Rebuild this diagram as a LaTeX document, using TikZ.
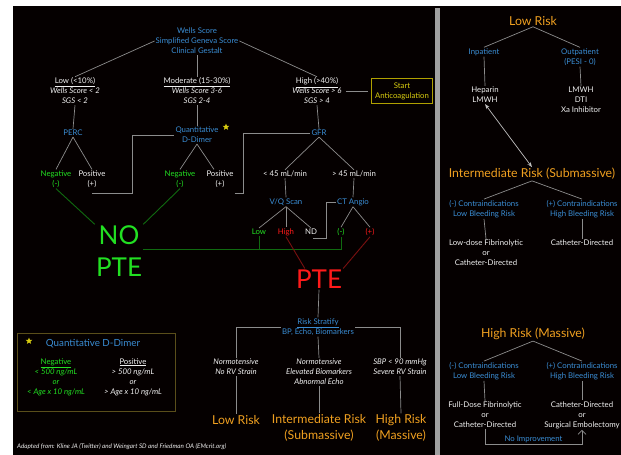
\documentclass[tikz,border=0pt]{standalone}
\usepackage{fontspec}
\setmainfont{Lato}
\usetikzlibrary{shapes.geometric,arrows.meta}
\definecolor{bgblack}{HTML}{050000}
\definecolor{txtwhite}{HTML}{F0F0F0}
\definecolor{txtblue}{HTML}{3A8DD4}
\definecolor{txtgreen}{HTML}{22E022}
\definecolor{bigred}{HTML}{FF1A1A}
\definecolor{txtorange}{HTML}{F0A020}
\definecolor{txtyellow}{HTML}{D8CC10}
\definecolor{boxyellow}{HTML}{B0A000}
\definecolor{boxolive}{HTML}{5A4E1A}
\definecolor{linegray}{HTML}{8C8C8C}
\definecolor{linegreen}{HTML}{106A10}
\definecolor{linered}{HTML}{7A1010}
\definecolor{bargray}{HTML}{A0A0A0}

\begin{document}
\begin{tikzpicture}[x=1pt,y=-1pt]
  \tikzset{txt/.style={font=\fontsize{7.8}{10}\selectfont, text=txtwhite, align=center, inner sep=1pt},
    blue txt/.style={txt, text=txtblue},
    it txt/.style={txt, font=\fontsize{7.8}{10}\selectfont\itshape},
    grn txt/.style={txt, text=txtgreen},
    red txt/.style={txt, text=bigred},
    risk txt/.style={txt, text=txtorange, font=\fontsize{12.3}{16}\selectfont},
    big txt/.style={txt, font=\fontsize{26}{32}\selectfont},
    mark star/.style={star, star points=5, star point ratio=2.3, inner sep=0pt,
      minimum size=7pt, fill=txtyellow},
    conn/.style={draw=linegray, line width=0.7pt},
    conn green/.style={draw=linegreen, line width=0.9pt},
    conn red/.style={draw=linered, line width=0.9pt}
  }
  \useasboundingbox (0,0) rectangle (621,455);
  \fill [white] (0,0) rectangle (621,455);
  \fill [bgblack] (13,6) rectangle (621,455);
  \fill [bargray] (435,8) rectangle (440,455);

  % work-up tree
  \node [blue txt] (wells) at (197,41) {Wells Score\\Simplified Geneva Score\\Clinical Gestalt};
  \node [txt] (low) at (75,91) {\underline{Low (<10\%)}\\\textit{Wells Score < 2}\\\textit{SGS < 2}};
  \node [txt] (mod) at (197,91) {\underline{Moderate (15-30\%)}\\\textit{Wells Score 3-6}\\\textit{SGS 2-4}};
  \node [txt] (high) at (317,91) {\underline{High (>40\%)}\\\textit{Wells Score > 6}\\\textit{SGS > 4}};
  \node [txt, text=txtyellow, draw=boxyellow, line width=0.8pt, minimum width=61pt,
    minimum height=25pt] (start) at (402,91) {Start\\Anticoagulation};
  \node [blue txt] (perc) at (73,133) {PERC};
  \node [grn txt] (percneg) at (56,179) {Negative\\(-)};
  \node [txt] (percpos) at (92,179) {Positive\\(+)};
  \node [blue txt] (dd) at (197,135) {Quantitative\\D-Dimer};
  \node [mark star] (ddstar) at (226,127) {};
  \node [grn txt] (ddneg) at (180,179) {Negative\\(-)};
  \node [txt] (ddpos) at (220,179) {Positive\\(+)};
  \node [blue txt] (gfr) at (319,133) {GFR};
  \node [txt] (lt45) at (285,174) {< 45 mL/min};
  \node [txt] (gt45) at (354,174) {> 45 mL/min};
  \node [blue txt] (vq) at (286,202) {V/Q Scan};
  \node [blue txt] (ct) at (353,202) {CT Angio};
  \node [grn txt] (vqlow) at (259,232) {Low};
  \node [red txt] (vqhigh) at (286,232) {High};
  \node [txt] (vqnd) at (311,232) {ND};
  \node [grn txt] (ctneg) at (341,232) {(-)};
  \node [red txt] (ctpos) at (370,232) {(+)};
  \node [big txt, text=txtgreen] (nopte) at (119,251) {NO\\PTE};
  \node [big txt, text=bigred] (pte) at (319,279) {PTE};

  \draw [conn] (wells.west) -- (low.north);
  \draw [conn] (wells.south) -- (mod.north);
  \draw [conn] (wells.east) -- (high.north);
  \draw [conn, shorten <=3pt, shorten >=3pt] (high.east) -- (start.west);
  \draw [conn] (low.south) -- (perc.north);
  \draw [conn] (perc.south) -- (percneg.north);
  \draw [conn] (perc.south) -- (percpos.north);
  \draw [conn] (percpos.south) ++(0,5) -| ([xshift=-42pt]dd.west) -- (dd.west);
  \draw [conn] (mod.south) -- (dd.north);
  \draw [conn] (dd.south) -- (ddneg.north);
  \draw [conn] (dd.south) -- ([xshift=-6pt]ddpos.north);
  \draw [conn] ([yshift=-5pt]ddpos.south east) -| ([xshift=-67pt]gfr.west) -- (gfr.west);
  \draw [conn] (high.south) -- (gfr.north);
  \draw [conn] (gfr.south) -- (lt45.north);
  \draw [conn] (gfr.south) -- (gt45.north);
  \draw [conn] (lt45.south) -- (vq.north);
  \draw [conn] (gt45.south) -- (ct.north);
  \draw [conn] (vq.south) -- (vqlow.north);
  \draw [conn] (vq.south) -- (vqhigh.north);
  \draw [conn] (vq.south) -- (vqnd.north);
  \draw [conn] (vqnd.south) ++(2,2) -| ([xshift=-10pt]ct.west) -- (ct.west);
  \draw [conn] (ct.south) -- (ctneg.north);
  \draw [conn] (ct.south) -- (ctpos.north);
  \draw [conn green] (percneg.south) -- (nopte.north west);
  \draw [conn green] (ddneg.south) -- (nopte.north east);
  \draw [conn green] ([yshift=2pt]nopte.east) -- ([yshift=2pt]ctneg.south |- nopte.east) -- (ctneg.south);
  \draw [conn green] (vqlow.south) -- ([yshift=2pt]vqlow.south |- nopte.east);
  \draw [conn red] (vqhigh.south) -- ([xshift=10pt]pte.north west);
  \draw [conn red] (ctpos.south) -- (pte.north east);

  % risk stratification
  \node [blue txt] (risk) at (318,327) {\underline{Risk Stratify}\\BP, Echo, Biomarkers};
  \node [it txt] (nt1) at (236,367) {Normotensive\\No RV Strain};
  \node [it txt] (nt2) at (319,372) {Normotensive\\Elevated Biomarkers\\Abnormal Echo};
  \node [it txt] (nt3) at (400,367) {SBP < 90 mmHg\\Severe RV Strain};
  \node [risk txt] (rlow) at (236,420) {Low Risk};
  \node [risk txt] (rint) at (319,428) {Intermediate Risk\\(Submassive)};
  \node [risk txt] (rhigh) at (401,428) {High Risk\\(Massive)};
  \draw [conn] (pte.south) -- (risk.north);
  \draw [conn] (risk.west) -| (nt1.north);
  \draw [conn] (risk.east) -| (nt3.north);
  \draw [conn] (risk.south) -- (nt2.north);
  \draw [conn] (nt1.south) -- (rlow.north);
  \draw [conn] (nt2.south) -- (rint.north);
  \draw [conn] (nt3.south) -- (rhigh.north);

  % D-dimer legend
  \draw [boxolive, line width=0.8pt] (17,333) rectangle (175,411);
  \node [mark star] (keystar) at (29,341) {};
  \node [blue txt, font=\fontsize{9.8}{12}\selectfont] (keytitle) at (93,344) {Quantitative D-Dimer};
  \node [grn txt] (keyneg) at (56,377) {\underline{Negative}\\\textit{< 500 ng/mL}\\\textit{or}\\\textit{< Age x 10 ng/mL}};
  \node [txt] (keypos) at (133,377) {\underline{Positive}\\\textit{> 500 ng/mL}\\\textit{or}\\\textit{> Age x 10 ng/mL}};
  \node [it txt, font=\fontsize{6.3}{7}\selectfont\itshape, anchor=west, inner sep=0pt] (credit) at (17,447)
    {Adapted from: Kline JA (Twitter) and Weingart SD and Friedman OA (EMcrit.org)};

  % treatment panel
  \node [risk txt] (tlow) at (533,21) {Low Risk};
  \node [blue txt] (inpat) at (484,52) {Inpatient};
  \node [blue txt] (outpat) at (580,57) {Outpatient\\(PESI - 0)};
  \node [txt] (hep) at (485,95) {Heparin\\LMWH};
  \node [txt] (lmwh) at (581,100) {LMWH\\DTI\\Xa Inhibitor};
  \node [risk txt] (tint) at (532,174) {Intermediate Risk (Submassive)};
  \node [blue txt] (ci1) at (484,209) {(-) Contraindications\\Low Bleeding Risk};
  \node [blue txt] (ci2) at (582,209) {(+) Contraindications\\High Bleeding Risk};
  \node [txt] (tx1) at (486,253) {Low-dose Fibrinolytic\\or\\Catheter-Directed};
  \node [txt] (tx2) at (582,243) {Catheter-Directed};
  \node [risk txt] (thigh) at (533,334) {High Risk (Massive)};
  \node [blue txt] (ci3) at (484,371) {(-) Contraindications\\Low Bleeding Risk};
  \node [blue txt] (ci4) at (582,371) {(+) Contraindications\\High Bleeding Risk};
  \node [txt] (tx3) at (485,415) {Full-Dose Fibrinolytic\\or\\Catheter-Directed};
  \node [txt] (tx4) at (582,415) {Catheter-Directed\\or\\Surgical Embolectomy};
  \draw [conn] (tlow.south) -- (inpat.north);
  \draw [conn] (tlow.south) -- (outpat.north);
  \draw [conn] (inpat.south) -- (hep.north);
  \draw [conn] (outpat.south) -- (lmwh.north);
  \draw [conn, draw=txtwhite!80!black, {Stealth[open,length=5pt]}-{Stealth[open,length=5pt]}] (hep.south) -- (tint.north);
  \draw [conn] (tint.south) -- (ci1.north);
  \draw [conn] (tint.south) -- (ci2.north);
  \draw [conn] (ci1.south) -- (tx1.north);
  \draw [conn] (ci2.south) -- (tx2.north);
  \draw [conn] (thigh.south) -- (ci3.north);
  \draw [conn] (thigh.south) -- (ci4.north);
  \draw [conn] (ci3.south) -- (tx3.north);
  \draw [conn] (ci4.south) -- (tx4.north);
  \draw [conn, -{Straight Barb[length=4pt]}] (tx3.south) -- ++(0,15) -| (tx4.south)
    node [blue txt, pos=0.25, above=0pt] (noimp) {No Improvement};
\end{tikzpicture}
\end{document}
